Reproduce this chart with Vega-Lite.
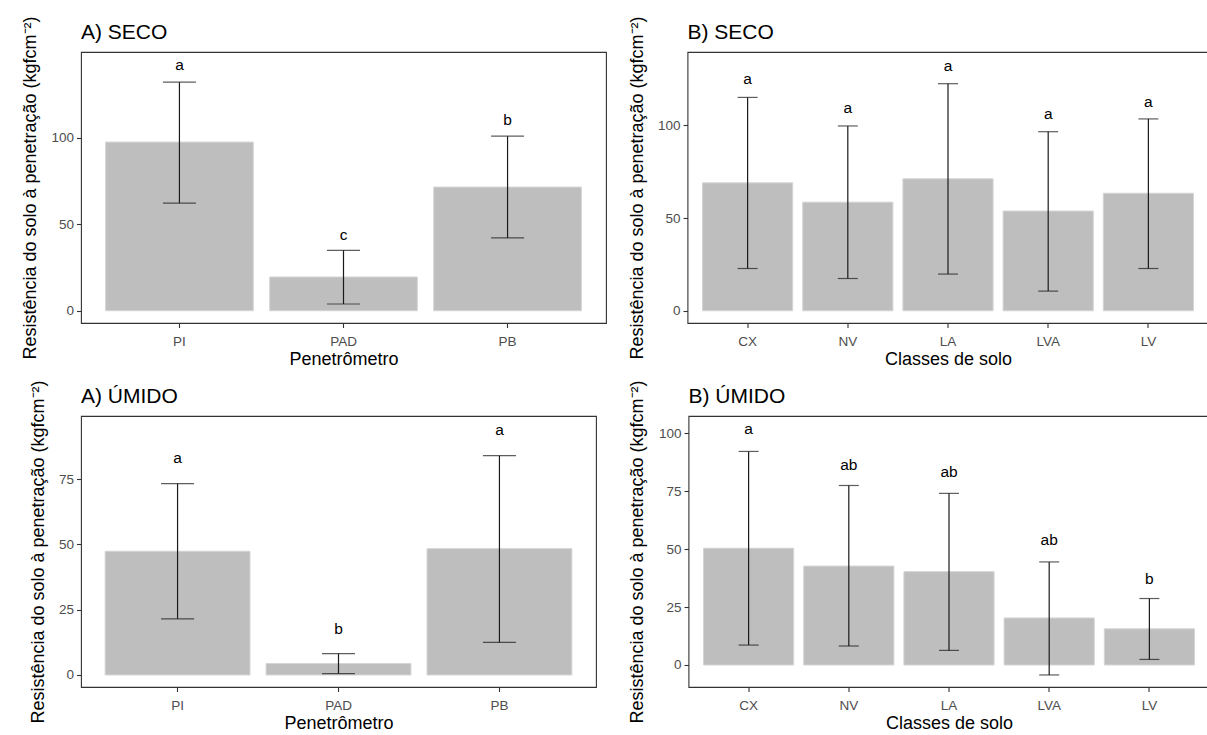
{
  "$schema": "https://vega.github.io/schema/vega-lite/v6.json",
  "background": "white",
  "padding": {"left": 21, "top": 15, "right": 0, "bottom": 0},
  "columns": 2,
  "align": "none",
  "spacing": {"row": 10, "column": 20.5},
  "config": {
    "font": "Liberation Sans",
    "view": {"stroke": "#333333", "strokeWidth": 1.1},
    "axis": {"grid": false, "domain": false, "tickColor": "#333333", "tickSize": 4.5, "tickWidth": 1.1, "labelColor": "#4d4d4d", "labelFontSize": 13.5, "labelPadding": 3, "titleFontSize": 18, "titleFontWeight": "normal", "titleColor": "#000000", "labelFont": "Liberation Sans", "titleFont": "Liberation Sans"},
    "axisX": {"labelAngle": 0, "titlePadding": 2, "labelPadding": 7},
    "axisY": {"titlePadding": 11},
    "title": {"anchor": "start", "frame": "group", "fontSize": 21, "fontWeight": "normal", "offset": 10, "dy": 37, "color": "#000000", "font": "Liberation Sans"}
  },
  "datasets": {
    "a_seco": [
      {"cat": "PI", "mean": 97.5, "lower": 62.2, "upper": 132.2, "letter": "a", "laby": 139.4},
      {"cat": "PAD", "mean": 19.5, "lower": 3.9, "upper": 34.9, "letter": "c", "laby": 40.9},
      {"cat": "PB", "mean": 71.5, "lower": 42.1, "upper": 100.9, "letter": "b", "laby": 107.2}
    ],
    "b_seco": [
      {"cat": "CX", "mean": 69.0, "lower": 22.8, "upper": 115.1, "letter": "a", "laby": 122.2},
      {"cat": "NV", "mean": 58.6, "lower": 17.4, "upper": 99.7, "letter": "a", "laby": 106.5},
      {"cat": "LA", "mean": 71.2, "lower": 19.8, "upper": 122.5, "letter": "a", "laby": 129.4},
      {"cat": "LVA", "mean": 53.8, "lower": 10.6, "upper": 96.6, "letter": "a", "laby": 103.5},
      {"cat": "LV", "mean": 63.4, "lower": 22.8, "upper": 103.5, "letter": "a", "laby": 110.1}
    ],
    "a_umido": [
      {"cat": "PI", "mean": 47.4, "lower": 21.5, "upper": 73.3, "letter": "a", "laby": 81.2},
      {"cat": "PAD", "mean": 4.4, "lower": 0.5, "upper": 8.2, "letter": "b", "laby": 15.8},
      {"cat": "PB", "mean": 48.4, "lower": 12.5, "upper": 84.0, "letter": "a", "laby": 92.0}
    ],
    "b_umido": [
      {"cat": "CX", "mean": 50.4, "lower": 8.6, "upper": 92.2, "letter": "a", "laby": 99.6},
      {"cat": "NV", "mean": 42.7, "lower": 8.2, "upper": 77.5, "letter": "ab", "laby": 84.4},
      {"cat": "LA", "mean": 40.3, "lower": 6.3, "upper": 74.1, "letter": "ab", "laby": 81.1},
      {"cat": "LVA", "mean": 20.3, "lower": -4.3, "upper": 44.5, "letter": "ab", "laby": 51.7},
      {"cat": "LV", "mean": 15.6, "lower": 2.4, "upper": 28.7, "letter": "b", "laby": 35.1}
    ]
  },
  "concat": [
    {
      "title": "A) SECO",
      "width": 525, "height": 271,
      "data": {"name": "a_seco"},
      "encoding": {"x": {"field": "cat", "type": "nominal", "sort": null, "scale": {"paddingInner": 0.1, "paddingOuter": 0.15}, "axis": {"title": "Penetrômetro"}}},
      "layer": [
        {"mark": {"type": "bar", "color": "#bebebe", "stroke": "#d4d4d4", "strokeWidth": 1}, "encoding": {"y": {"field": "mean", "type": "quantitative", "scale": {"domain": [-7.1, 149.6], "nice": false, "zero": false}, "axis": {"values": [0, 50, 100], "title": "Resistência do solo à penetração (kgfcm⁻²)"}}, "y2": {"datum": 0}}},
        {"mark": {"type": "rule", "color": "#1a1a1a", "strokeWidth": 1.2}, "encoding": {"y": {"field": "lower", "type": "quantitative"}, "y2": {"field": "upper"}}},
        {"mark": {"type": "tick", "color": "#1a1a1a", "thickness": 1.2, "size": 33, "orient": "horizontal"}, "encoding": {"y": {"field": "lower", "type": "quantitative"}}},
        {"mark": {"type": "tick", "color": "#1a1a1a", "thickness": 1.2, "size": 33, "orient": "horizontal"}, "encoding": {"y": {"field": "upper", "type": "quantitative"}}},
        {"mark": {"type": "text", "fontSize": 15.5, "baseline": "alphabetic", "color": "#000000"}, "encoding": {"y": {"field": "laby", "type": "quantitative"}, "text": {"field": "letter"}}}
      ]
    },
    {
      "title": "B) SECO",
      "width": 521, "height": 271,
      "data": {"name": "b_seco"},
      "encoding": {"x": {"field": "cat", "type": "nominal", "sort": null, "scale": {"paddingInner": 0.1, "paddingOuter": 0.15}, "axis": {"title": "Classes de solo"}}},
      "layer": [
        {"mark": {"type": "bar", "color": "#bebebe", "stroke": "#d4d4d4", "strokeWidth": 1}, "encoding": {"y": {"field": "mean", "type": "quantitative", "scale": {"domain": [-6.6, 139.6], "nice": false, "zero": false}, "axis": {"values": [0, 50, 100], "title": "Resistência do solo à penetração (kgfcm⁻²)"}}, "y2": {"datum": 0}}},
        {"mark": {"type": "rule", "color": "#1a1a1a", "strokeWidth": 1.2}, "encoding": {"y": {"field": "lower", "type": "quantitative"}, "y2": {"field": "upper"}}},
        {"mark": {"type": "tick", "color": "#1a1a1a", "thickness": 1.2, "size": 20, "orient": "horizontal"}, "encoding": {"y": {"field": "lower", "type": "quantitative"}}},
        {"mark": {"type": "tick", "color": "#1a1a1a", "thickness": 1.2, "size": 20, "orient": "horizontal"}, "encoding": {"y": {"field": "upper", "type": "quantitative"}}},
        {"mark": {"type": "text", "fontSize": 15.5, "baseline": "alphabetic", "color": "#000000"}, "encoding": {"y": {"field": "laby", "type": "quantitative"}, "text": {"field": "letter"}}}
      ]
    },
    {
      "title": "A) ÚMIDO",
      "width": 515, "height": 271,
      "data": {"name": "a_umido"},
      "encoding": {"x": {"field": "cat", "type": "nominal", "sort": null, "scale": {"paddingInner": 0.1, "paddingOuter": 0.15}, "axis": {"title": "Penetrômetro"}}},
      "layer": [
        {"mark": {"type": "bar", "color": "#bebebe", "stroke": "#d4d4d4", "strokeWidth": 1}, "encoding": {"y": {"field": "mean", "type": "quantitative", "scale": {"domain": [-4.6, 99.2], "nice": false, "zero": false}, "axis": {"values": [0, 25, 50, 75], "title": "Resistência do solo à penetração (kgfcm⁻²)"}}, "y2": {"datum": 0}}},
        {"mark": {"type": "rule", "color": "#1a1a1a", "strokeWidth": 1.2}, "encoding": {"y": {"field": "lower", "type": "quantitative"}, "y2": {"field": "upper"}}},
        {"mark": {"type": "tick", "color": "#1a1a1a", "thickness": 1.2, "size": 33, "orient": "horizontal"}, "encoding": {"y": {"field": "lower", "type": "quantitative"}}},
        {"mark": {"type": "tick", "color": "#1a1a1a", "thickness": 1.2, "size": 33, "orient": "horizontal"}, "encoding": {"y": {"field": "upper", "type": "quantitative"}}},
        {"mark": {"type": "text", "fontSize": 15.5, "baseline": "alphabetic", "color": "#000000"}, "encoding": {"y": {"field": "laby", "type": "quantitative"}, "text": {"field": "letter"}}}
      ]
    },
    {
      "title": "B) ÚMIDO",
      "width": 521, "height": 271,
      "data": {"name": "b_umido"},
      "encoding": {"x": {"field": "cat", "type": "nominal", "sort": null, "scale": {"paddingInner": 0.1, "paddingOuter": 0.15}, "axis": {"title": "Classes de solo"}}},
      "layer": [
        {"mark": {"type": "bar", "color": "#bebebe", "stroke": "#d4d4d4", "strokeWidth": 1}, "encoding": {"y": {"field": "mean", "type": "quantitative", "scale": {"domain": [-9.5, 107.5], "nice": false, "zero": false}, "axis": {"values": [0, 25, 50, 75, 100], "titlePadding": 12, "title": "Resistência do solo à penetração (kgfcm⁻²)"}}, "y2": {"datum": 0}}},
        {"mark": {"type": "rule", "color": "#1a1a1a", "strokeWidth": 1.2}, "encoding": {"y": {"field": "lower", "type": "quantitative"}, "y2": {"field": "upper"}}},
        {"mark": {"type": "tick", "color": "#1a1a1a", "thickness": 1.2, "size": 20, "orient": "horizontal"}, "encoding": {"y": {"field": "lower", "type": "quantitative"}}},
        {"mark": {"type": "tick", "color": "#1a1a1a", "thickness": 1.2, "size": 20, "orient": "horizontal"}, "encoding": {"y": {"field": "upper", "type": "quantitative"}}},
        {"mark": {"type": "text", "fontSize": 15.5, "baseline": "alphabetic", "color": "#000000"}, "encoding": {"y": {"field": "laby", "type": "quantitative"}, "text": {"field": "letter"}}}
      ]
    }
  ]
}
